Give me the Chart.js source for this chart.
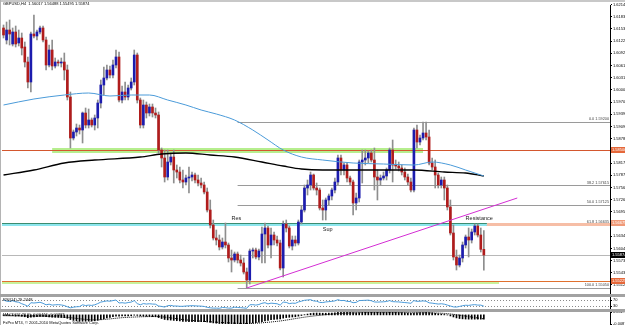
<!DOCTYPE html>
<html lang="en">
<head>
<meta charset="UTF-8">
<title>GBPUSD,H4</title>
<script src="https://cdn.jsdelivr.net/npm/chart.js"></script>
<style>
  body { margin:0; background:#fff; width:625px; height:331px; overflow:hidden; position:relative; }
  .pane { position:absolute; left:0; width:625px; }
  .split { position:absolute; left:0; width:625px; background:#a2a2a2; }
</style>
</head>
<body>
<div class="pane" style="top:0;height:294px"><canvas id="mainChart"></canvas></div>
<div class="split" style="top:0;height:2px;background:#c8c8c8"></div>
<div style="position:absolute;left:0;top:0;width:1px;height:325px;background:#b4b4b4"></div>
<div class="split" style="top:294px;height:3px"></div>
<div class="pane" style="top:297px;height:12px"><canvas id="rsiChart"></canvas></div>
<div class="split" style="top:309px;height:3px"></div>
<div class="pane" style="top:312px;height:19px"><canvas id="macdChart"></canvas></div>

<script>
// ---- data (GBPUSD H4, 11 Nov - 17 Dec 2010) ----
const timeLabels = ['11 Nov 2010','12 Nov 08:00','15 Nov 16:00','17 Nov 00:00','18 Nov 08:00','19 Nov 16:00',
  '23 Nov 00:00','24 Nov 08:00','25 Nov 16:00','29 Nov 00:00','30 Nov 08:00','1 Dec 16:00','3 Dec 00:00',
  '6 Dec 08:00','7 Dec 16:00','9 Dec 00:00','10 Dec 08:00','13 Dec 16:00','15 Dec 00:00','16 Dec 08:00'];

const priceTicks = [1.62140,1.61835,1.61530,1.61225,1.60920,1.60615,1.60310,1.60005,1.59700,1.59395,1.59090,1.58785,
  1.58480,1.58175,1.57870,1.57565,1.57260,1.56955,1.56650,1.56345,1.56040,1.55735,1.55430,1.55125];

const openP = [
  1.61550,1.61250,1.61500,1.61150,1.61450,1.61175,1.61300,1.61075,1.60700,1.60200,
  1.61400,1.61350,1.61450,1.61550,1.61250,1.60625,1.61000,1.60600,1.60700,1.60675,
  1.60700,1.60500,1.59825,1.58800,1.58950,1.59050,1.59000,1.59425,1.59125,1.59250,
  1.59125,1.59300,1.59675,1.60125,1.60300,1.60500,1.60375,1.60625,1.60825,1.59750,
  1.59950,1.59825,1.60050,1.60200,1.60875,1.59750,1.59125,1.59625,1.59425,1.59575,
  1.59425,1.59375,1.58500,1.58300,1.57825,1.58200,1.58325,1.58000,1.57950,1.57750,
  1.57700,1.57800,1.57825,1.57875,1.57750,1.57675,1.57625,1.57450,1.57000,1.56625,
  1.56300,1.56250,1.56075,1.56200,1.56125,1.55800,1.55750,1.55900,1.55750,1.55675,
  1.55450,1.55250,1.55975,1.56000,1.55825,1.55975,1.56400,1.56550,1.56125,1.56375,
  1.56250,1.56175,1.55550,1.56650,1.56550,1.56100,1.56250,1.56175,1.56700,1.57000,
  1.57550,1.57625,1.57875,1.57550,1.57500,1.57050,1.57000,1.57250,1.57350,1.57500,
  1.57700,1.58300,1.58000,1.58125,1.57800,1.57700,1.57175,1.57300,1.58200,1.58250,
  1.58300,1.58425,1.58250,1.57825,1.57750,1.57800,1.57850,1.58000,1.58500,1.58125,
  1.58100,1.58050,1.57950,1.57825,1.57700,1.57500,1.59000,1.58700,1.58800,1.58925,
  1.58825,1.58175,1.58075,1.57875,1.57625,1.57750,1.57550,1.57075,1.56425,1.55825,
  1.55625,1.55800,1.56125,1.56325,1.56250,1.56450,1.56600,1.56375,1.56017];
const highP = [
  1.61625,1.61700,1.61750,1.61550,1.61600,1.61500,1.61425,1.61200,1.60825,1.61450,
  1.61875,1.61500,1.61600,1.61600,1.61325,1.61125,1.61250,1.60800,1.60750,1.60800,
  1.60925,1.60625,1.59950,1.59000,1.59150,1.59125,1.59450,1.59550,1.59525,1.59300,
  1.59375,1.59750,1.60250,1.60575,1.60625,1.60600,1.60750,1.61000,1.60950,1.60100,
  1.60200,1.60125,1.60300,1.61000,1.60925,1.59800,1.59750,1.59700,1.59650,1.59650,
  1.59550,1.59450,1.58550,1.58500,1.58500,1.58425,1.58500,1.58125,1.58075,1.58000,
  1.57875,1.58075,1.57950,1.57925,1.57875,1.57800,1.57700,1.57550,1.57250,1.56750,
  1.56500,1.56375,1.56300,1.56675,1.56175,1.56000,1.55950,1.55950,1.55875,1.55800,
  1.55550,1.56025,1.56050,1.56050,1.56025,1.56575,1.56675,1.56600,1.56550,1.56450,
  1.56350,1.56250,1.56725,1.56750,1.56600,1.56350,1.56350,1.56750,1.57100,1.57625,
  1.57750,1.57950,1.57900,1.57675,1.57550,1.57250,1.57300,1.57400,1.57550,1.57800,
  1.58375,1.58375,1.58175,1.58175,1.57850,1.57750,1.57425,1.58250,1.58500,1.58500,
  1.58475,1.58500,1.58550,1.58000,1.57875,1.57950,1.58050,1.58550,1.58750,1.58250,
  1.58200,1.58125,1.58050,1.57900,1.57800,1.59050,1.59125,1.58875,1.59200,1.59200,
  1.59000,1.58300,1.58250,1.57925,1.57825,1.57825,1.57625,1.57250,1.56625,1.56000,
  1.55875,1.56200,1.56375,1.56550,1.56525,1.56650,1.56650,1.56550,1.56488];
const lowP = [
  1.61300,1.61150,1.61125,1.61100,1.61075,1.61100,1.60875,1.60575,1.60050,1.59950,
  1.61300,1.61250,1.61400,1.61200,1.60500,1.60575,1.60500,1.60550,1.60600,1.60575,
  1.60250,1.59750,1.58550,1.58750,1.58850,1.58900,1.58675,1.59050,1.59050,1.59075,
  1.59000,1.59050,1.59550,1.59875,1.60250,1.60300,1.60300,1.60550,1.59700,1.59675,
  1.59750,1.59750,1.60000,1.60125,1.59675,1.59050,1.59050,1.59300,1.59350,1.59325,
  1.59300,1.58425,1.58075,1.57700,1.57750,1.58125,1.57675,1.57800,1.57675,1.57550,
  1.57625,1.57425,1.57725,1.57675,1.57600,1.57550,1.57400,1.56950,1.56550,1.56250,
  1.56125,1.56000,1.56025,1.56050,1.55700,1.55450,1.55700,1.55675,1.55600,1.55400,
  1.55050,1.55150,1.55800,1.55775,1.55750,1.55675,1.55675,1.56050,1.55800,1.56125,
  1.56100,1.55500,1.55325,1.56450,1.56050,1.56000,1.56100,1.56125,1.56650,1.56950,
  1.57375,1.57500,1.57500,1.57375,1.57000,1.56750,1.56750,1.57125,1.57250,1.57425,
  1.57625,1.57875,1.57875,1.57700,1.57625,1.56875,1.57000,1.57200,1.57675,1.58125,
  1.58175,1.58200,1.57500,1.57250,1.57625,1.57750,1.57750,1.57925,1.57700,1.58025,
  1.57975,1.57875,1.57750,1.57625,1.57450,1.57450,1.58550,1.58625,1.58750,1.58750,
  1.58125,1.58000,1.57550,1.57550,1.57550,1.57250,1.57000,1.56375,1.55750,1.55500,
  1.55575,1.55700,1.56050,1.55825,1.56175,1.56375,1.56325,1.55950,1.55495];
const closeP = [
  1.61375,1.61500,1.61400,1.61450,1.61150,1.61300,1.61050,1.60700,1.60200,1.61400,
  1.61350,1.61450,1.61550,1.61250,1.60625,1.61000,1.60600,1.60700,1.60675,1.60700,
  1.60500,1.59825,1.58800,1.58950,1.59050,1.59000,1.59425,1.59125,1.59250,1.59125,
  1.59300,1.59675,1.60125,1.60300,1.60500,1.60375,1.60625,1.60825,1.59750,1.59950,
  1.59825,1.60050,1.60200,1.60875,1.59750,1.59125,1.59625,1.59425,1.59575,1.59425,
  1.59375,1.58500,1.58300,1.57825,1.58200,1.58325,1.58000,1.57950,1.57750,1.57700,
  1.57800,1.57825,1.57875,1.57750,1.57675,1.57625,1.57450,1.57000,1.56625,1.56300,
  1.56250,1.56075,1.56200,1.56125,1.55800,1.55750,1.55900,1.55750,1.55675,1.55450,
  1.55250,1.55975,1.56000,1.55825,1.55975,1.56400,1.56550,1.56125,1.56375,1.56250,
  1.56175,1.55550,1.56650,1.56550,1.56100,1.56250,1.56175,1.56700,1.57000,1.57550,
  1.57625,1.57875,1.57550,1.57500,1.57050,1.57000,1.57250,1.57350,1.57500,1.57700,
  1.58300,1.58000,1.58125,1.57800,1.57700,1.57175,1.57300,1.58200,1.58250,1.58300,
  1.58425,1.58250,1.57825,1.57750,1.57800,1.57850,1.58000,1.58500,1.58125,1.58100,
  1.58050,1.57950,1.57825,1.57700,1.57500,1.59000,1.58700,1.58800,1.58925,1.58825,
  1.58175,1.58075,1.57875,1.57625,1.57750,1.57550,1.57075,1.56425,1.55825,1.55625,
  1.55800,1.56125,1.56325,1.56250,1.56450,1.56600,1.56375,1.56017,1.55874];

// moving averages, read at a few bars
const maBlueBars = [0,10,20,28,35,42,48,54,60,65,70,76,82,87,92,98,105,115,125,135,141,147,152,158];
const maBlueVals = [1.59625,1.59775,1.59875,1.59925,1.59850,1.59875,1.59875,1.59750,1.59625,1.59500,1.59400,1.59250,
  1.59000,1.58750,1.58500,1.58325,1.58250,1.58175,1.58150,1.58125,1.58200,1.58125,1.58000,1.57850];
const maBlackBars = [0,10,20,30,45,52,60,68,76,85,92,98,105,115,125,135,145,152,158];
const maBlackVals = [1.57875,1.58000,1.58175,1.58250,1.58325,1.58400,1.58425,1.58375,1.58325,1.58200,1.58100,1.58025,
  1.58000,1.58000,1.58000,1.58000,1.57950,1.57925,1.57850];

const rsiVals = [
  70,62,60,65,58,55,45,38,28,52, 50,52,55,48,38,42,36,38,39,37,
  33,25,18,22,25,26,38,33,36,34, 38,46,56,60,64,62,66,70,50,52,
  49,53,56,66,46,38,46,43,45,43, 42,30,27,23,32,34,30,30,28,28,
  30,31,32,31,30,29,27,21,18,16, 16,15,20,19,16,16,22,20,19,17,
  15,38,39,36,40,48,52,44,49,47, 45,36,56,54,46,49,48,57,62,68,
  70,72,64,62,54,53,57,59,61,64, 72,66,67,61,60,52,54,66,67,68,
  69,65,57,56,57,58,60,66,59,58, 57,55,53,51,48,66,61,62,64,62,
  51,49,46,43,45,42,36,30,24,23, 27,32,35,34,37,39,36,36,29];
const rsiLevels = [70, 30];

const macdVals = [
  -0.0005,-0.0006,-0.0006,-0.0007,-0.0009,-0.0010,-0.0013,-0.0018,-0.0026,-0.0022,
  -0.0019,-0.0017,-0.0014,-0.0014,-0.0018,-0.0019,-0.0022,-0.0023,-0.0024,-0.0025,
  -0.0027,-0.0033,-0.0045,-0.0053,-0.0058,-0.0062,-0.0061,-0.0061,-0.0060,-0.0059,
  -0.0057,-0.0052,-0.0044,-0.0036,-0.0029,-0.0024,-0.0018,-0.0012,-0.0012,-0.0011,
  -0.0011,-0.0010,-0.0008,-0.0003,-0.0005,-0.0010,-0.0012,-0.0014,-0.0015,-0.0017,
  -0.0018,-0.0026,-0.0035,-0.0044,-0.0048,-0.0050,-0.0053,-0.0056,-0.0059,-0.0062,
  -0.0063,-0.0064,-0.0064,-0.0064,-0.0064,-0.0065,-0.0066,-0.0068,-0.0072,-0.0077,
  -0.0080,-0.0083,-0.0084,-0.0084,-0.0086,-0.0087,-0.0086,-0.0085,-0.0085,-0.0086,
  -0.0087,-0.0082,-0.0078,-0.0075,-0.0070,-0.0064,-0.0057,-0.0052,-0.0047,-0.0043,
  -0.0040,-0.0039,-0.0031,-0.0026,-0.0023,-0.0020,-0.0018,-0.0012,-0.0006,0.0002,
  0.0008,0.0014,0.0017,0.0018,0.0017,0.0016,0.0016,0.0017,0.0018,0.0020,
  0.0024,0.0025,0.0026,0.0025,0.0024,0.0021,0.0019,0.0021,0.0024,0.0026,
  0.0027,0.00277,0.0027,0.0025,0.0024,0.0023,0.0023,0.0025,0.0025,0.0024,
  0.0023,0.0022,0.0020,0.0018,0.0015,0.0018,0.0020,0.0021,0.0023,0.0024,
  0.0022,0.0019,0.0015,0.0011,0.0008,0.0004,-0.0001,-0.0010,-0.0020,-0.0029,
  -0.0035,-0.0038,-0.0040,-0.0041,-0.0041,-0.0041,-0.0041,-0.0041,-0.00416];
const signalBars = [0,20,30,40,50,60,70,80,90,100,110,120,135,145,158];
const signalVals = [-0.0008,-0.0022,-0.0048,-0.0025,-0.0016,-0.0048,-0.0070,-0.0082,-0.0062,-0.0018,
  0.0012,0.0022,0.0021,0.0014,-0.00387];
const macdTicks = [0.00277, -0.00875];

// drawn objects (prices and bar numbers)
const redLevel = 1.58500;
const greenZone = [1.58425, 1.58550], greenBars = [16, 138];
const resZone = [1.56600, 1.56675], resSplitBar = 159;
const supZone = [1.55150, 1.55225], supEndBar = 163;
const bidPrice = 1.55874;
const fibHigh = 1.59200, fibLow = 1.55050, fibStartBar = 77;
const fibRatios = [0, 38.2, 50, 61.8, 100];
const trendBars = [80, 169], trendVals = [1.55050, 1.57300];
const noteTexts = ['Res', 'Sup', 'Resistance'];
const noteBars = [75, 105, 152];
const notePrices = [1.56725, 1.56450, 1.56725];

const SLOTS = 200;
const slots = Array.from({length: SLOTS}, (_, i) => i);

const FONT = '"Liberation Sans", Arial, sans-serif';
const BULL = '#1c1cae', BEAR = '#b01c1c', WICK = '#8e8e8e';
Chart.defaults.font.family = FONT;

function fixWidth(s) { s.width = 15; s.paddingTop = 0; s.paddingBottom = 0; }
function rightAxis(min, max, tickVals, fmt) {
  return {
    position: 'right', min: min, max: max, afterFit: fixWidth,
    afterBuildTicks: s => { s.ticks = tickVals.map(v => ({value: v})); },
    grid: { drawOnChartArea: false, tickLength: 2, color: '#000' },
    border: { color: '#000' },
    ticks: { font: { size: 4 }, color: '#000', padding: 1, autoSkip: false, callback: fmt }
  };
}
function txt(ctx, s, x, y, size, color, align) {
  ctx.font = size + 'px ' + FONT;
  ctx.fillStyle = color;
  ctx.textAlign = align || 'left';
  ctx.textBaseline = 'top';
  ctx.fillText(s, x, y);
}

const mainOverlay = {
  id: 'mainOverlay',
  beforeDatasetsDraw(chart) {
    const {ctx, chartArea: a, scales: {x, y}} = chart;
    const bx = b => x.getPixelForValue(b);
    const band = (x0, x1, z, color) => {
      const y0 = y.getPixelForValue(z[1]), y1 = y.getPixelForValue(z[0]);
      ctx.fillStyle = color;
      ctx.fillRect(x0, y0, x1 - x0, Math.max(1, y1 - y0));
    };
    const hline = (x0, x1, p, color) => {
      const yy = Math.round(y.getPixelForValue(p)) + 0.5;
      ctx.strokeStyle = color; ctx.lineWidth = 1;
      ctx.beginPath(); ctx.moveTo(x0, yy); ctx.lineTo(x1, yy); ctx.stroke();
    };
    ctx.save();
    ctx.beginPath(); ctx.rect(a.left, a.top, a.width, a.height); ctx.clip();
    hline(a.left, a.right, bidPrice, '#b8b8b8');
    fibRatios.forEach(r => hline(bx(fibStartBar), a.right, fibHigh - (fibHigh - fibLow) * r / 100, '#9a9a9a'));
    band(bx(greenBars[0]), bx(greenBars[1]), greenZone, '#b6ee8e');
    hline(a.left, a.right, redLevel, '#d4572e');
    band(a.left, bx(resSplitBar), resZone, '#8ce6ee');
    band(bx(resSplitBar), a.right, resZone, '#f6bea6');
    hline(a.left, bx(resSplitBar), resZone[1], '#3c8c70');
    band(a.left, bx(supEndBar), supZone, '#c8f29c');
    hline(a.left, a.right, supZone[1], '#e0702e');
    ctx.restore();
  },
  afterDatasetsDraw(chart) {
    const {ctx, chartArea: a, scales: {x, y}} = chart;
    ctx.save();
    fibRatios.forEach(r => {
      const p = fibHigh - (fibHigh - fibLow) * r / 100;
      txt(ctx, r.toFixed(1) + ' ' + p.toFixed(5), a.right - 1, y.getPixelForValue(p) - 4.5, 3.8, '#444', 'right');
    });
    noteTexts.forEach((t, k) => {
      txt(ctx, t, x.getPixelForValue(noteBars[k]), y.getPixelForValue(notePrices[k]) - 5, 5.5, '#222');
    });
    ctx.restore();
  },
  afterDraw(chart) {
    const {ctx, chartArea: a, scales: {y}} = chart;
    const tag = (p, bg, fg) => {
      const yy = Math.round(y.getPixelForValue(p));
      ctx.fillStyle = bg;
      ctx.fillRect(a.right + 1, yy - 3, 14, 6);
      txt(ctx, p.toFixed(5), a.right + 2, yy - 2, 4, fg);
    };
    ctx.save();
    tag(redLevel, '#e5683a', '#fff');
    tag(resZone[1], '#f09a78', '#fff');
    tag(supZone[1], '#e5683a', '#fff');
    tag(bidPrice, '#000', '#fff');
    txt(ctx, 'GBPUSD,H4  1.56017 1.56488 1.55495 1.55874', 3, 2, 4, '#000');
    ctx.restore();
  }
};

new Chart(document.getElementById('mainChart'), {
  type: 'bar',
  data: {
    labels: slots,
    datasets: [
      { type: 'line', data: trendBars.map((b, k) => ({x: b, y: trendVals[k]})),
        borderColor: '#d42ed4', borderWidth: 1, pointRadius: 0, order: 0 },
      { type: 'line', data: maBlueBars.map((b, k) => ({x: b, y: maBlueVals[k]})),
        borderColor: '#4b9bd9', borderWidth: 1, pointRadius: 0, cubicInterpolationMode: 'monotone', order: 1 },
      { type: 'line', data: maBlackBars.map((b, k) => ({x: b, y: maBlackVals[k]})),
        borderColor: '#000', borderWidth: 1.3, pointRadius: 0, cubicInterpolationMode: 'monotone', order: 2 },
      { data: lowP.map((l, i) => [l, highP[i]]), backgroundColor: WICK,
        barThickness: 1, grouped: false, order: 4 },
      { data: openP.map((o, i) => [o, closeP[i]]),
        backgroundColor: closeP.map((c, i) => c >= openP[i] ? BULL : BEAR),
        barThickness: 2, minBarLength: 1, grouped: false, order: 3 }
    ]
  },
  options: {
    animation: false, responsive: true, maintainAspectRatio: false,
    layout: { padding: { left: 2, top: 5, right: 0, bottom: 0 }, autoPadding: false },
    plugins: { legend: { display: false }, tooltip: { enabled: false } },
    scales: {
      x: { type: 'category', offset: true, display: false },
      y: rightAxis(1.549, 1.62125, priceTicks, v => v.toFixed(5))
    }
  },
  plugins: [mainOverlay]
});

const rsiOverlay = {
  id: 'rsiOverlay',
  beforeDatasetsDraw(chart) {
    const {ctx, chartArea: a, scales: {y}} = chart;
    ctx.save();
    ctx.strokeStyle = '#8a8a8a'; ctx.lineWidth = 1; ctx.setLineDash([1, 2]);
    rsiLevels.forEach(v => {
      const yy = Math.round(y.getPixelForValue(v)) + 0.5;
      ctx.beginPath(); ctx.moveTo(a.left, yy); ctx.lineTo(a.right, yy); ctx.stroke();
    });
    ctx.restore();
  },
  afterDraw(chart) {
    txt(chart.ctx, 'RSI(14) 29.2448', 3, 1, 4, '#000');
  }
};

new Chart(document.getElementById('rsiChart'), {
  type: 'line',
  data: { labels: slots, datasets: [{ data: rsiVals, borderColor: '#4b9bd9', borderWidth: 1, pointRadius: 0 }] },
  options: {
    animation: false, responsive: true, maintainAspectRatio: false,
    layout: { padding: { left: 2 }, autoPadding: false },
    plugins: { legend: { display: false }, tooltip: { enabled: false } },
    scales: {
      x: { type: 'category', offset: true, display: false },
      y: rightAxis(10, 90, rsiLevels, v => String(v))
    }
  },
  plugins: [rsiOverlay]
});

const macdOverlay = {
  id: 'macdOverlay',
  afterDraw(chart) {
    txt(chart.ctx, 'MACD(12,26,9) -0.00416 -0.00387', 3, 1, 4, '#000');
    txt(chart.ctx, 'FxPro MT4, \u00a9 2001-2010 MetaQuotes Software Corp.', 3, 8.5, 4, '#000');
  }
};

new Chart(document.getElementById('macdChart'), {
  type: 'bar',
  data: {
    labels: slots,
    datasets: [
      { type: 'line', data: signalBars.map((b, k) => ({x: b, y: signalVals[k]})),
        borderColor: '#000', borderWidth: 1, borderDash: [1, 1], pointRadius: 0,
        cubicInterpolationMode: 'monotone', order: 0 },
      { data: macdVals, backgroundColor: '#000', barThickness: 1, order: 1 }
    ]
  },
  options: {
    animation: false, responsive: true, maintainAspectRatio: false,
    layout: { padding: { left: 2 }, autoPadding: false },
    plugins: { legend: { display: false }, tooltip: { enabled: false } },
    scales: {
      x: {
        type: 'category', offset: true, afterFit: s => { s.height = 7; },
        grid: { display: false }, border: { display: false },
        ticks: { autoSkip: false, maxRotation: 0, align: 'start', padding: 1,
                 font: { size: 4 }, color: '#000',
                 callback: (v, i) => (i % 8 === 0 && timeLabels[i / 8]) ? timeLabels[i / 8] : null }
      },
      y: rightAxis(-0.00875, 0.00277, macdTicks, v => v.toFixed(5))
    }
  },
  plugins: [macdOverlay]
});
</script>
</body>
</html>
